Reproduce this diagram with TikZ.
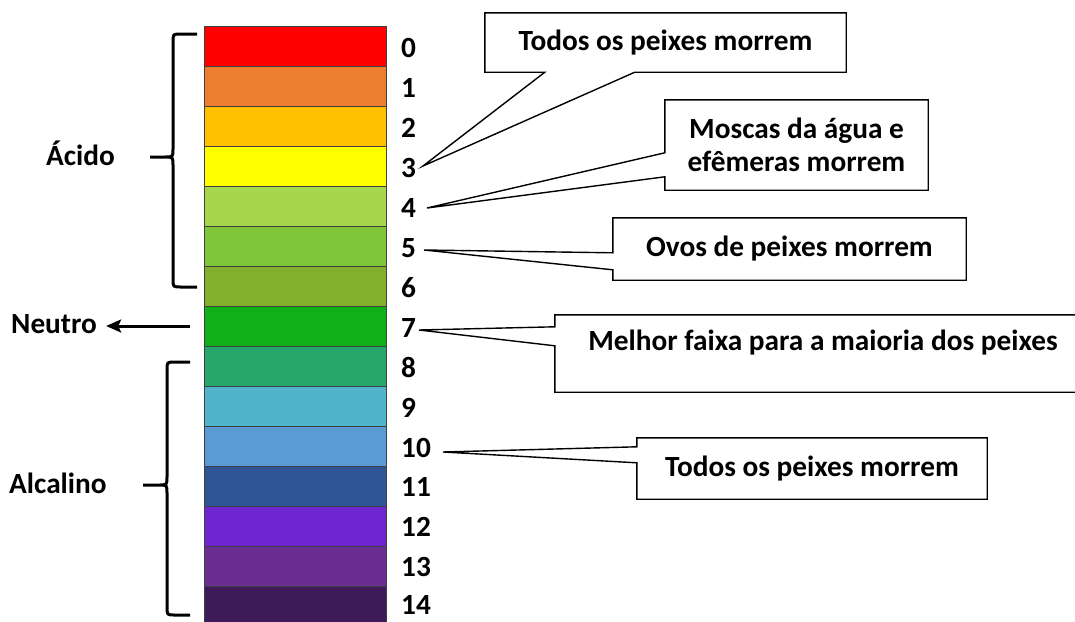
\documentclass[tikz,border=0pt]{standalone}
\usepackage{fontspec}
\setmainfont{Carlito}
\usetikzlibrary{arrows.meta,calc}
\definecolor{ph0}{HTML}{FF0000}
\definecolor{ph1}{HTML}{ED7D31}
\definecolor{ph2}{HTML}{FFC000}
\definecolor{ph3}{HTML}{FFFF00}
\definecolor{ph4}{HTML}{A6D64A}
\definecolor{ph5}{HTML}{80C63A}
\definecolor{ph6}{HTML}{82B02C}
\definecolor{ph7}{HTML}{0FB018}
\definecolor{ph8}{HTML}{26A86C}
\definecolor{ph9}{HTML}{50B5CB}
\definecolor{ph10}{HTML}{5B9BD5}
\definecolor{ph11}{HTML}{2F5597}
\definecolor{ph12}{HTML}{6E26D0}
\definecolor{ph13}{HTML}{6A2D92}
\definecolor{ph14}{HTML}{3E1A58}
\tikzset{
  phrow/.style={draw=black!75, line width=1pt, minimum width=182pt, minimum height=40pt, inner sep=0pt},
  lbl/.style={font=\fontsize{29.3}{33}\selectfont\bfseries, inner sep=0pt},
  callbox/.style={lbl, align=center},
  callline/.style={line width=1.4pt, line join=miter},
  brc/.style={line width=3pt},
}
\begin{document}
\begin{tikzpicture}[x=1pt, y=-1pt]
\useasboundingbox (0,0) rectangle (1075,621);
\clip (0,0) rectangle (1075,621);
% color bar
\node[phrow, fill=ph0] (r0) at (295,46) {};
\node[phrow, fill=ph1] (r1) at (295,86) {};
\node[phrow, fill=ph2] (r2) at (295,126) {};
\node[phrow, fill=ph3] (r3) at (295,166) {};
\node[phrow, fill=ph4] (r4) at (295,206) {};
\node[phrow, fill=ph5] (r5) at (295,246) {};
\node[phrow, fill=ph6] (r6) at (295,286) {};
\node[phrow, fill=ph7] (r7) at (295,326) {};
\node[phrow, fill=ph8] (r8) at (295,366) {};
\node[phrow, fill=ph9] (r9) at (295,406) {};
\node[phrow, fill=ph10] (r10) at (295,446) {};
\node[phrow, fill=ph11] (r11) at (295,486) {};
\node[phrow, fill=ph12] (r12) at (295,526) {};
\node[phrow, fill=ph13] (r13) at (295,566) {};
\node[phrow, fill=ph14] (r14) at (295,606) {};
% numbers
\node[lbl, anchor=base west] (n0) at (401,57) {0};
\node[lbl, anchor=base west] (n1) at (401,97) {1};
\node[lbl, anchor=base west] (n2) at (401,137) {2};
\node[lbl, anchor=base west] (n3) at (401,177) {3};
\node[lbl, anchor=base west] (n4) at (401,217) {4};
\node[lbl, anchor=base west] (n5) at (401,257) {5};
\node[lbl, anchor=base west] (n6) at (401,297) {6};
\node[lbl, anchor=base west] (n7) at (401,337) {7};
\node[lbl, anchor=base west] (n8) at (401,377) {8};
\node[lbl, anchor=base west] (n9) at (401,417) {9};
\node[lbl, anchor=base west] (n10) at (401,457) {10};
\node[lbl, anchor=base west] (n11) at (401,496) {11};
\node[lbl, anchor=base west] (n12) at (401,536) {12};
\node[lbl, anchor=base west] (n13) at (401,576) {13};
\node[lbl, anchor=base west] (n14) at (401,614) {14};
% left side
\node[lbl, anchor=base west] (acido) at (46,165) {Ácido};
\node[lbl, anchor=base west] (neutro) at (11,333) {Neutro};
\node[lbl, anchor=base west] (alcalino) at (9,493) {Alcalino};
\coordinate (a7) at (190,326);
\draw[line width=3pt, -{Stealth[length=15pt, width=13pt, inset=3pt]}, shorten >=9pt] (a7) -- (neutro.east |- a7);
\draw[brc] (197,34) -- (181,34) .. controls (173,34) .. (173,42) -- (173,149) .. controls (173,157) .. (165,157) -- (150,157)
  (165,157) .. controls (173,157) .. (173,165) -- (173,279) .. controls (173,287) .. (181,287) -- (197,287);
\draw[brc] (190,362) -- (175,362) .. controls (167,362) .. (167,370) -- (167,477) .. controls (167,485) .. (159,485) -- (143,485)
  (159,485) .. controls (167,485) .. (167,493) -- (167,607) .. controls (167,615) .. (175,615) -- (190,615);
% callouts
\coordinate (p3) at (423,166);
\coordinate (p4) at (427,208);
\coordinate (p5) at (424,250);
\coordinate (p7) at (419,330);
\coordinate (p10) at (443,452);
\node[callbox, minimum width=361pt, minimum height=59pt] (c1) at (665.5,42.5) {Todos os peixes morrem};
\draw[callline] (c1.south west) -- (c1.north west) -- (c1.north east) -- (c1.south east)
  -- ($(c1.south west)+(150,0)$) -- (p3) -- ($(c1.south west)+(60,0)$) -- cycle;
\node[callbox, minimum width=263pt, minimum height=90pt] (c2) at (796.5,145) {Moscas da água e\\efêmeras morrem};
\draw[callline] (c2.north west) -- (c2.north east) -- (c2.south east) -- (c2.south west)
  -- ($(c2.north west)+(0,77)$) -- (p4) -- ($(c2.north west)+(0,53)$) -- cycle;
\node[callbox, minimum width=353pt, minimum height=62pt] (c3) at (789.5,249) {Ovos de peixes morrem};
\draw[callline] (c3.north west) -- (c3.north east) -- (c3.south east) -- (c3.south west)
  -- ($(c3.north west)+(0,52)$) -- (p5) -- ($(c3.north west)+(0,35)$) -- cycle;
\node[callbox, minimum width=535pt, minimum height=77pt] (c4) at (822.5,353.5) {};
\node[lbl] (t4) at (823,343) {Melhor faixa para a maioria dos peixes};
\draw[callline] (c4.north west) -- (c4.north east) -- (c4.south east) -- (c4.south west)
  -- ($(c4.north west)+(0,31)$) -- (p7) -- ($(c4.north west)+(0,12)$) -- cycle;
\node[callbox, minimum width=350pt, minimum height=61pt] (c5) at (812,468.5) {Todos os peixes morrem};
\draw[callline] (c5.north west) -- (c5.north east) -- (c5.south east) -- (c5.south west)
  -- ($(c5.north west)+(0,25)$) -- (p10) -- ($(c5.north west)+(0,9)$) -- cycle;
\end{tikzpicture}
\end{document}
